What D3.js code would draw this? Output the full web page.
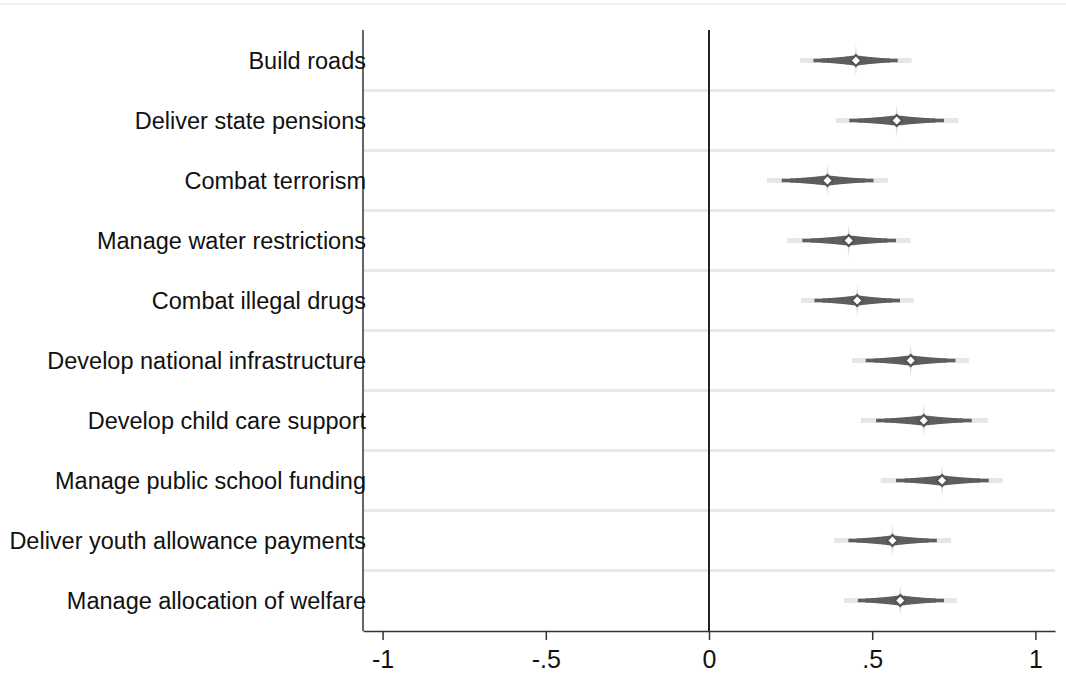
<!doctype html>
<html lang="en">
<head>
  <meta charset="utf-8">
  <style>
    body {
      margin: 0;
      background-color: white;
    }
    svg {
      display: block;
      background-color: white;
      font-family: "Liberation Sans", Arial, sans-serif;
    }
    .grid {
      stroke: #e8e8e8;
      stroke-width: 3px;
    }
    .label {
      font-size: 23.5px;
      fill: #111;
    }
    .x-axis text {
      font-size: 25px;
      fill: #111;
      font-family: "Liberation Sans", Arial, sans-serif;
    }
    .x-axis line, .x-axis path {
      stroke: #333;
      stroke-width: 1.5px;
    }
  </style>
</head>
<body>
  <script src="https://d3js.org/d3.v7.min.js"></script>
<script>
var width = 1066,
height = 700;

// tasks, top to bottom
var tasks = [
  "Build roads",
  "Deliver state pensions",
  "Combat terrorism",
  "Manage water restrictions",
  "Combat illegal drugs",
  "Develop national infrastructure",
  "Develop child care support",
  "Manage public school funding",
  "Deliver youth allowance payments",
  "Manage allocation of welfare"
];

// point estimates
var estimate = [0.450, 0.575, 0.363, 0.428, 0.454, 0.618, 0.658, 0.714, 0.562, 0.586];
// inner (dark) interval
var lo95 = [0.320, 0.430, 0.223, 0.286, 0.323, 0.480, 0.512, 0.573, 0.427, 0.456];
var hi95 = [0.578, 0.720, 0.504, 0.573, 0.585, 0.755, 0.805, 0.857, 0.698, 0.720];
// outer (light) interval
var lo99 = [0.279, 0.388, 0.177, 0.240, 0.282, 0.438, 0.465, 0.526, 0.383, 0.414];
var hi99 = [0.621, 0.764, 0.548, 0.618, 0.627, 0.796, 0.854, 0.900, 0.742, 0.759];

var xTicks = [-1, -0.5, 0, 0.5, 1];

var rows = tasks.map(function(t, i) {
  return {task: t, est: estimate[i], lo95: lo95[i], hi95: hi95[i], lo99: lo99[i], hi99: hi99[i]};
});

var x = d3.scaleLinear()
  .domain([-1.06, 1.06])
  .range([363, 1055]);

var y = d3.scaleBand()
  .domain(tasks)
  .range([30.5, 630.5]);

var svg = d3.select("body").append("svg")
  .attr("width", width)
  .attr("height", height);

// faint frame line at top
svg.append("line")
  .attr("x1", 0).attr("x2", width)
  .attr("y1", 4).attr("y2", 4)
  .attr("stroke", "#ececec")
  .attr("stroke-width", 1.5);

// separators between rows
svg.append("g")
  .selectAll("line")
  .data(tasks.slice(1))
  .enter().append("line")
  .attr("class", "grid")
  .attr("x1", x.range()[0])
  .attr("x2", x.range()[1])
  .attr("y1", function(d) { return y(d); })
  .attr("y2", function(d) { return y(d); });

// left axis line
svg.append("line")
  .attr("x1", x.range()[0]).attr("x2", x.range()[0])
  .attr("y1", 30).attr("y2", 631)
  .attr("stroke", "#333")
  .attr("stroke-width", 1.5);

// bottom axis
var xAxis = d3.axisBottom(x)
  .tickValues(xTicks)
  .tickSize(9)
  .tickSizeOuter(0)
  .tickPadding(10)
  .tickFormat(function(d) { return String(d).replace("0.", "."); });

svg.append("g")
  .attr("class", "x-axis")
  .attr("transform", "translate(0," + 631 + ")")
  .call(xAxis);

// zero line
svg.append("line")
  .attr("x1", x(0)).attr("x2", x(0))
  .attr("y1", 30).attr("y2", 631)
  .attr("stroke", "#222")
  .attr("stroke-width", 2);

// labels
svg.append("g")
  .selectAll("text")
  .data(tasks)
  .enter().append("text")
  .attr("class", "label")
  .attr("x", 366)
  .attr("y", function(d) { return y(d) + y.bandwidth() / 2; })
  .attr("dy", "0.38em")
  .attr("text-anchor", "end")
  .text(function(d) { return d; });

// spindle outline: thick at the estimate, tapering out
function spindle(d) {
  var cy = y(d.task) + y.bandwidth() / 2;
  var cx = x(d.est);
  var top = [], bottom = [];
  var n = 30;
  function half(t) {
    if (t > 0.82) return 1.7;
    return 2.2 + 3 * Math.pow(1 - t / 0.82, 1.5);
  }
  for (var i = n; i >= 0; i--) {
    var t = i / n;
    var px = cx + (x(d.lo95) - cx) * t;
    top.push([px, cy - half(t)]);
    bottom.push([px, cy + half(t)]);
  }
  for (var j = 1; j <= n; j++) {
    var t2 = j / n;
    var px2 = cx + (x(d.hi95) - cx) * t2;
    top.push([px2, cy - half(t2)]);
    bottom.push([px2, cy + half(t2)]);
  }
  return d3.line()(top.concat(bottom.reverse())) + "Z";
}

var g = svg.append("g")
  .selectAll("g")
  .data(rows)
  .enter().append("g");

g.append("line")
  .attr("x1", function(d) { return x(d.lo99); })
  .attr("x2", function(d) { return x(d.hi99); })
  .attr("y1", function(d) { return y(d.task) + y.bandwidth() / 2; })
  .attr("y2", function(d) { return y(d.task) + y.bandwidth() / 2; })
  .attr("stroke", "#e6e6e6")
  .attr("stroke-width", 5);

// faint vertical spike through the estimate
g.append("path")
  .attr("fill", "#dcdcdc")
  .attr("d", function(d) {
    var cx = x(d.est), cy = y(d.task) + y.bandwidth() / 2;
    return "M" + cx + "," + (cy - 16) + "L" + (cx + 1.6) + "," + cy +
      "L" + cx + "," + (cy + 16) + "L" + (cx - 1.6) + "," + cy + "Z";
  });

g.append("path")
  .attr("fill", "#5e5e5e")
  .attr("d", spindle);

g.append("path")
  .attr("fill", "white")
  .attr("stroke", "#555")
  .attr("stroke-width", 2.2)
  .attr("d", function(d) {
    var cx = x(d.est), cy = y(d.task) + y.bandwidth() / 2, r = 5.5;
    return "M" + cx + "," + (cy - r) + "L" + (cx + r) + "," + cy +
      "L" + cx + "," + (cy + r) + "L" + (cx - r) + "," + cy + "Z";
  });
</script>
</body>
</html>
